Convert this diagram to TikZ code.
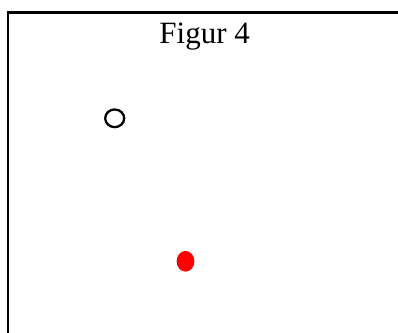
\documentclass[tikz,border=0pt]{standalone}
\usepackage{fontspec}
\setmainfont{Liberation Serif}
\usetikzlibrary{shapes.geometric}
\begin{document}
\begin{tikzpicture}[x=1pt,y=1pt,
  frameline/.style={line width=2.2pt, black},
  title/.style={font=\fontsize{31}{36}\selectfont, inner sep=0pt, anchor=base}]
\useasboundingbox (0,0) rectangle (398,332);
\coordinate (bl) at (7.9,0);
\coordinate (tl) at (7.9,319.5);
\coordinate (tr) at (398,319.5);
\draw[frameline, line cap=rect] (bl) -- (tl) -- (tr);
\node[title] (t) at (204.7,288.7) {Figur 4};
\node[draw=black, line width=2.3pt, ellipse, minimum width=19pt, minimum height=17.7pt, inner sep=0pt] (o) at (114.7,213.7) {};
\node[fill=red, draw=none, ellipse, minimum width=17.8pt, minimum height=20.7pt, inner sep=0pt] (r) at (185.5,70.7) {};
\end{tikzpicture}
\end{document}
